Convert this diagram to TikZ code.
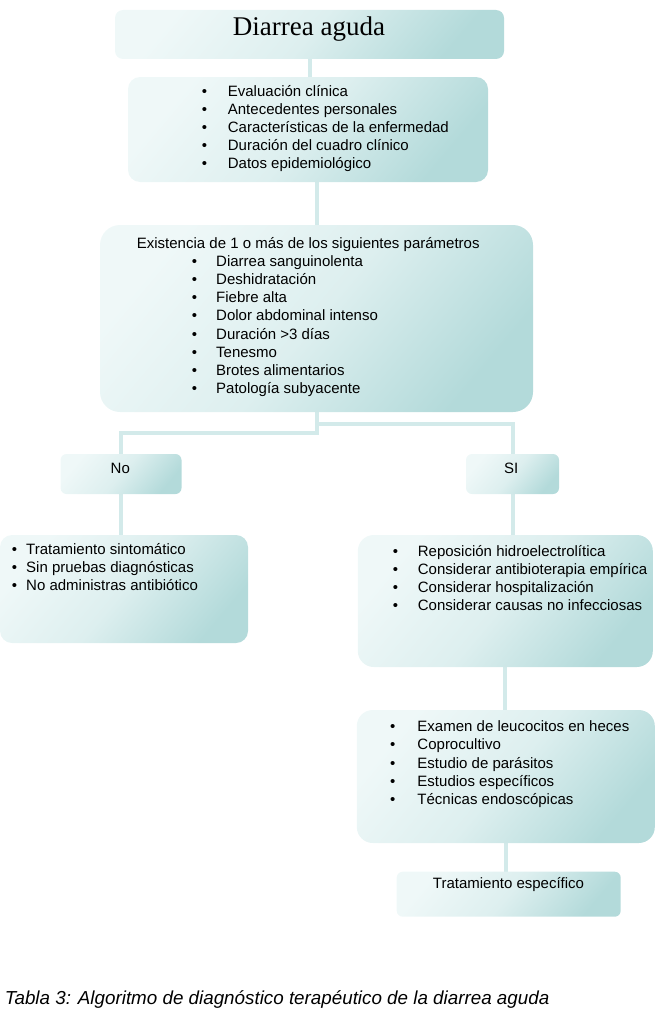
\documentclass[tikz,border=0pt]{standalone}
\usepackage{fontspec}
\setmainfont{Liberation Sans}
\newfontfamily\titlefont{Liberation Serif}
\usepackage{tikz}
\usetikzlibrary{positioning, backgrounds}
\definecolor{boxlight}{HTML}{EFF8F8}
\definecolor{boxmid}{HTML}{DDEFEF}
\definecolor{boxdark}{HTML}{B3DADA}
\definecolor{linkcolor}{HTML}{D3EAEA}
\newcommand{\bul}[1]{\makebox[#1][l]{\textbullet}}
\tikzset{
    flowbox/.style  = {rounded corners=12pt, inner sep=0pt, top color=boxlight,
                       bottom color=boxdark, middle color=boxmid, shading angle=50},
    smallbox/.style = {flowbox, rounded corners=6pt},
    link/.style     = {line width=4pt, linkcolor},
    listtext/.style = {anchor=base west, inner sep=0pt, align=left,
                       font=\fontsize{15}{18.2}\selectfont},
}

\begin{document}
\begin{tikzpicture}[x=1pt, y=-1pt]
\useasboundingbox (0,0) rectangle (656,1025);

% cajas
\node[flowbox, rounded corners=8pt, minimum width=389pt, minimum height=49pt] (titulo) at (309.5,34.5) {};
\node[flowbox, minimum width=360pt, minimum height=105pt] (evaluacion) at (308,129.5) {};
\node[flowbox, rounded corners=20pt, minimum width=433pt, minimum height=187pt] (parametros) at (316.5,318.5) {};
\node[smallbox, minimum width=121pt, minimum height=40pt] (no) at (121,474) {};
\node[smallbox, minimum width=93pt, minimum height=40pt] (si) at (512.5,474) {};
\node[flowbox, minimum width=248pt, minimum height=108pt] (sintomatico) at (124,589) {};
\node[flowbox, rounded corners=16pt, minimum width=295pt, minimum height=132pt] (reposicion) at (505.3,601) {};
\node[flowbox, rounded corners=16pt, minimum width=298pt, minimum height=133pt] (examenes) at (505.8,776.5) {};
\node[smallbox, minimum width=224pt, minimum height=45pt] (especifico) at (508.7,894.2) {};

% textos (base = ultima linea)
\node[anchor=base, inner sep=0pt, font=\titlefont\fontsize{27}{30}\selectfont] (tituloTxt) at (309,36) {Diarrea aguda};
\node[listtext] (evaluacionTxt) at (201.7,168.8)
    {\bul{26pt}Evaluación clínica\\ \bul{26pt}Antecedentes personales\\
     \bul{26pt}Características de la enfermedad\\ \bul{26pt}Duración del cuadro clínico\\
     \bul{26pt}Datos epidemiológico};
\node[listtext] (parametrosTxt) at (136.7,393.6)
    {Existencia de 1 o más de los siguientes parámetros\\
     \hspace*{55pt}\bul{24.3pt}Diarrea sanguinolenta\\ \hspace*{55pt}\bul{24.3pt}Deshidratación\\
     \hspace*{55pt}\bul{24.3pt}Fiebre alta\\ \hspace*{55pt}\bul{24.3pt}Dolor abdominal intenso\\
     \hspace*{55pt}\bul{24.3pt}Duración >3 días\\ \hspace*{55pt}\bul{24.3pt}Tenesmo\\
     \hspace*{55pt}\bul{24.3pt}Brotes alimentarios\\ \hspace*{55pt}\bul{24.3pt}Patología subyacente};
\node[listtext] (noTxt) at (110.5,473.5) {No};
\node[listtext] (siTxt) at (503.8,473.5) {SI};
\node[listtext] (sintomaticoTxt) at (11.7,590.4)
    {\bul{14.3pt}Tratamiento sintomático\\ \bul{14.3pt}Sin pruebas diagnósticas\\
     \bul{14.3pt}No administras antibiótico};
\node[listtext] (reposicionTxt) at (392.7,610.6)
    {\bul{25pt}Reposición hidroelectrolítica\\ \bul{25pt}Considerar antibioterapia empírica\\
     \bul{25pt}Considerar hospitalización\\ \bul{25pt}Considerar causas no infecciosas};
\node[listtext] (examenesTxt) at (390,804.5)
    {\bul{27.3pt}Examen de leucocitos en heces\\ \bul{27.3pt}Coprocultivo\\
     \bul{27.3pt}Estudio de parásitos\\ \bul{27.3pt}Estudios específicos\\
     \bul{27.3pt}Técnicas endoscópicas};
\node[anchor=base, inner sep=0pt, font=\fontsize{15}{18}\selectfont] (especificoTxt) at (508.5,888.3) {Tratamiento específico};
\node[anchor=base west, inner sep=0pt, font=\fontsize{18.8}{22}\selectfont\itshape] (leyenda) at (4.6,1004)
    {Tabla 3: Algoritmo de diagnóstico terapéutico de la diarrea aguda};

% conectores
\begin{scope}[on background layer]
\draw[link] (titulo.south) -- (titulo.south |- evaluacion.north);
\draw[link] (evaluacion.south -| parametros.north) -- (parametros.north);
\draw[link] (parametros.south) -- ++(0,21) -| (no.north);
\draw[link] (parametros.south) -- ++(0,12) -| (si.north);
\draw[link] (no.south) -- (no.south |- sintomatico.north);
\draw[link] (si.south) -- (si.south |- reposicion.north);
\draw[link] (reposicion.south) -- (reposicion.south |- examenes.north);
\draw[link] (examenes.south) -- (examenes.south |- especifico.north);
\end{scope}

\end{tikzpicture}
\end{document}
